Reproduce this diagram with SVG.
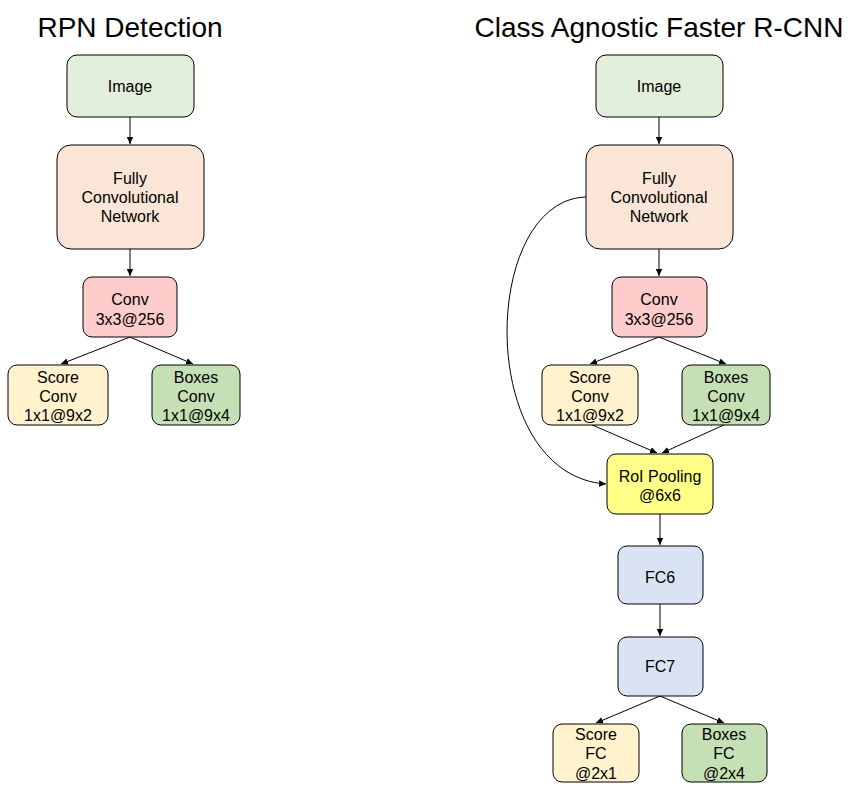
<svg xmlns="http://www.w3.org/2000/svg" width="866" height="792" viewBox="0 0 866 792">
<defs>
<marker id="arr" markerWidth="8" markerHeight="8" refX="7" refY="4" orient="auto" markerUnits="userSpaceOnUse">
<path d="M0,0.8 L7,4 L0,7.2 Z" fill="#000"/>
</marker>
<style>
.n{stroke:#000;stroke-width:1}
.t{font-family:"Liberation Sans",Arial,sans-serif;font-size:16px;text-anchor:middle;fill:#000}
.h{font-family:"Liberation Sans",Arial,sans-serif;font-size:28px;text-anchor:middle;fill:#000}
.c{stroke:#000;stroke-width:1;fill:none;marker-end:url(#arr)}
.img{fill:#e2efda}.fcn{fill:#fbe5d6}.conv{fill:#ffcccc}.score{fill:#fff2cc}.box{fill:#c5e0b4}.roi{fill:#ffff88}.fc{fill:#dae3f3}
</style>
</defs>
<rect width="866" height="792" fill="#fff"/>
<text class="h" x="130" y="37">RPN Detection</text>
<text class="h" x="659" y="37">Class Agnostic Faster R-CNN</text>
<g id="connectors">
<path class="c" d="M130,117 V144"/>
<path class="c" d="M130,249 V276"/>
<path class="c" d="M130,337 L61,364"/>
<path class="c" d="M130,337 L193,364"/>
<path class="c" d="M659,117 V144"/>
<path class="c" d="M659,249 V276"/>
<path class="c" d="M659,337 L590,364"/>
<path class="c" d="M659,337 L726,364"/>
<path class="c" d="M590,424 L657,453"/>
<path class="c" d="M726,424 L662,453"/>
<path class="c" d="M586,197 C480,200 475,475 606,484"/>
<path class="c" d="M660,514 V545"/>
<path class="c" d="M660,604 V636"/>
<path class="c" d="M660,696 L596,723"/>
<path class="c" d="M660,696 L724,723"/>
</g>
<g id="rpn-image"><rect class="n img" x="67" y="55" width="127" height="62" rx="10"/><text class="t" x="130" y="92">Image</text></g>
<g id="rpn-fcn"><rect class="n fcn" x="57" y="145" width="147" height="104" rx="14"/><text class="t" x="130" y="184">Fully</text><text class="t" x="130" y="203">Convolutional</text><text class="t" x="130" y="222">Network</text></g>
<g id="rpn-conv"><rect class="n conv" x="83" y="277" width="94" height="60" rx="9"/><text class="t" x="130" y="305">Conv</text><text class="t" x="130" y="325">3x3@256</text></g>
<g id="rpn-score"><rect class="n score" x="8" y="365" width="100" height="60" rx="9"/><text class="t" x="58" y="383">Score</text><text class="t" x="58" y="402">Conv</text><text class="t" x="58" y="421">1x1@9x2</text></g>
<g id="rpn-boxes"><rect class="n box" x="152" y="365" width="88" height="60" rx="9"/><text class="t" x="196" y="383">Boxes</text><text class="t" x="196" y="402">Conv</text><text class="t" x="196" y="421">1x1@9x4</text></g>
<g id="fr-image"><rect class="n img" x="596" y="55" width="127" height="62" rx="10"/><text class="t" x="659" y="92">Image</text></g>
<g id="fr-fcn"><rect class="n fcn" x="586" y="145" width="147" height="104" rx="14"/><text class="t" x="659" y="184">Fully</text><text class="t" x="659" y="203">Convolutional</text><text class="t" x="659" y="222">Network</text></g>
<g id="fr-conv"><rect class="n conv" x="612" y="277" width="95" height="60" rx="9"/><text class="t" x="659" y="305">Conv</text><text class="t" x="659" y="325">3x3@256</text></g>
<g id="fr-score"><rect class="n score" x="542" y="365" width="96" height="60" rx="9"/><text class="t" x="590" y="383">Score</text><text class="t" x="590" y="402">Conv</text><text class="t" x="590" y="421">1x1@9x2</text></g>
<g id="fr-boxes"><rect class="n box" x="682" y="365" width="88" height="60" rx="9"/><text class="t" x="726" y="383">Boxes</text><text class="t" x="726" y="402">Conv</text><text class="t" x="726" y="421">1x1@9x4</text></g>
<g id="fr-roi"><rect class="n roi" x="607" y="454" width="106" height="60" rx="9"/><text class="t" x="660" y="482">RoI Pooling</text><text class="t" x="660" y="501">@6x6</text></g>
<g id="fr-fc6"><rect class="n fc" x="618" y="546" width="85" height="58" rx="9"/><text class="t" x="660" y="583">FC6</text></g>
<g id="fr-fc7"><rect class="n fc" x="618" y="637" width="85" height="59" rx="9"/><text class="t" x="660" y="672">FC7</text></g>
<g id="fr-scorefc"><rect class="n score" x="553" y="724" width="86" height="58" rx="9"/><text class="t" x="596" y="740">Score</text><text class="t" x="596" y="759">FC</text><text class="t" x="596" y="779">@2x1</text></g>
<g id="fr-boxesfc"><rect class="n box" x="682" y="724" width="85" height="58" rx="9"/><text class="t" x="724" y="740">Boxes</text><text class="t" x="724" y="759">FC</text><text class="t" x="724" y="779">@2x4</text></g>
</svg>
